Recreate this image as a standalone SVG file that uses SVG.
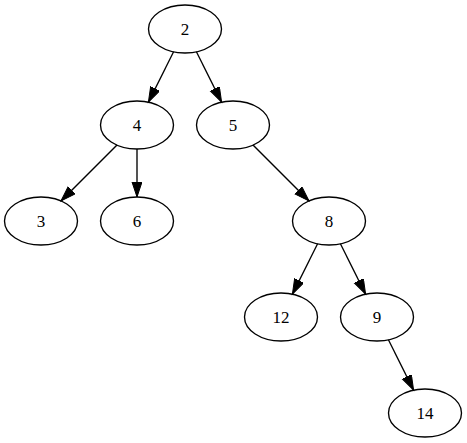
<svg xmlns="http://www.w3.org/2000/svg" width="467" height="443" viewBox="0 0 467 443">
<style>
ellipse{fill:none;stroke:#000;stroke-width:1.35}
text{font-family:"Liberation Serif","Times New Roman",serif;font-size:17px;text-anchor:middle;fill:#000}
.e line{stroke:#000;stroke-width:1.35}
</style>
<defs>
<marker id="ah" markerUnits="userSpaceOnUse" markerWidth="17" markerHeight="12" refX="15" refY="5" orient="auto">
<path d="M0,0 L15,5 L0,10 z" fill="#000" stroke="#000" stroke-width="1"/>
</marker>
</defs>
<rect width="467" height="443" fill="#fff"/>
<g class="e" id="edges">
<line x1="173.6" y1="51.8" x2="148.4" y2="102.2" marker-end="url(#ah)"/>
<line x1="196.4" y1="51.8" x2="221.6" y2="102.2" marker-end="url(#ah)"/>
<line x1="117" y1="145" x2="61" y2="201" marker-end="url(#ah)"/>
<line x1="137" y1="149" x2="137" y2="197" marker-end="url(#ah)"/>
<line x1="253" y1="145" x2="309" y2="201" marker-end="url(#ah)"/>
<line x1="317.6" y1="243.8" x2="292.4" y2="294.2" marker-end="url(#ah)"/>
<line x1="340.4" y1="243.8" x2="365.6" y2="294.2" marker-end="url(#ah)"/>
<line x1="388.4" y1="339.8" x2="413.6" y2="390.2" marker-end="url(#ah)"/>
</g>
<g id="n2"><ellipse cx="185" cy="29" rx="36.5" ry="24"/><text x="185" y="35">2</text></g>
<g id="n4"><ellipse cx="137" cy="125" rx="36.5" ry="24"/><text x="137" y="131">4</text></g>
<g id="n5"><ellipse cx="233" cy="125" rx="36.5" ry="24"/><text x="233" y="131">5</text></g>
<g id="n3"><ellipse cx="41" cy="221" rx="36.5" ry="24"/><text x="41" y="227">3</text></g>
<g id="n6"><ellipse cx="137" cy="221" rx="36.5" ry="24"/><text x="137" y="227">6</text></g>
<g id="n8"><ellipse cx="329" cy="221" rx="36.5" ry="24"/><text x="329" y="227">8</text></g>
<g id="n12"><ellipse cx="281" cy="317" rx="36.5" ry="24"/><text x="281" y="323">12</text></g>
<g id="n9"><ellipse cx="377" cy="317" rx="36.5" ry="24"/><text x="377" y="323">9</text></g>
<g id="n14"><ellipse cx="425" cy="413" rx="36.5" ry="24"/><text x="425" y="419">14</text></g>
</svg>
